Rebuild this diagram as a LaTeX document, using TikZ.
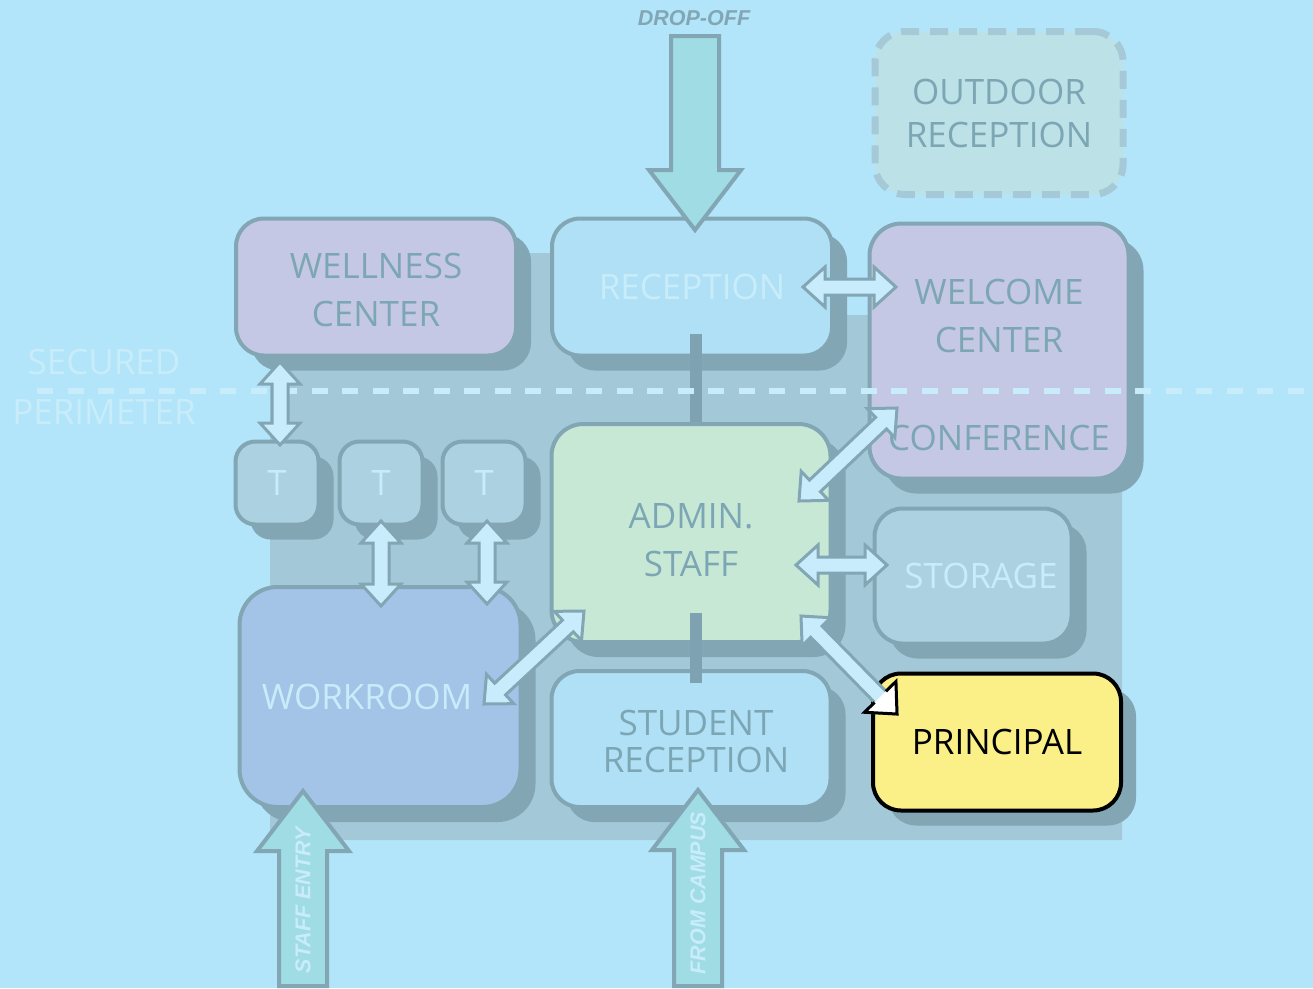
\documentclass[tikz,border=0pt]{standalone}
\usepackage{fontspec}
\setmainfont{Open Sans}
\newfontfamily\signfont{Liberation Sans}
\usetikzlibrary{calc,shadows}

\definecolor{skyblue}{HTML}{B2E5F9}
\definecolor{zonegray}{HTML}{A3C8D7}
\definecolor{edgegray}{HTML}{82A6B4}
\definecolor{wallbar}{HTML}{7EA2B1}
\definecolor{inkgray}{HTML}{7DA6B5}
\definecolor{inklight}{HTML}{C8ECFA}
\definecolor{lilac}{HTML}{C5C8E4}
\definecolor{paleblue}{HTML}{B0E0F5}
\definecolor{mint}{HTML}{C8E8D6}
\definecolor{steel}{HTML}{ACD2E1}
\definecolor{cornflower}{HTML}{A3C4E7}
\definecolor{lemon}{HTML}{FAF087}
\definecolor{lanefill}{HTML}{A0DCE4}
\definecolor{ductfill}{HTML}{C8ECFB}
\definecolor{patio}{HTML}{BCE2E8}
\definecolor{patioedge}{HTML}{A5C9D7}

\tikzset{
    room/.style = {draw=edgegray, line width=4pt, rounded corners=28pt, align=center,
        text=inkgray, font=\fontsize{35}{48}\selectfont,
        drop shadow={shadow xshift=15pt, shadow yshift=-15pt, fill=edgegray, opacity=1}},
    roomtext/.style = {text=inkgray, align=center, font=\fontsize{35}{48}\selectfont},
    tbox/.style = {room, fill=steel, text=inklight, rounded corners=20pt, minimum size=83pt},
    outdoor/.style = {draw=patioedge, fill=patio, line width=7pt, dash pattern=on 18pt off 11pt,
        rounded corners=30pt, align=center, text=inkgray, font=\fontsize{35}{43}\selectfont},
    partition/.style = {wallbar, line width=12pt},
    perimeter/.style = {inklight, line width=6pt, dash pattern=on 16pt off 14.5pt},
    duct/.style = {draw=edgegray, fill=ductfill, line width=3pt, line join=miter},
    lane/.style = {draw=edgegray, fill=lanefill, line width=4pt, line join=miter},
    signtext/.style = {font=\signfont\bfseries\itshape\fontsize{21.5}{24}\selectfont},
    % two headed passage between rooms
    pics/dblarrow/.style args = {#1/#2}{
        code = {%
        \draw[duct] (#1) -- ($(#1)!22pt!(#2)!20pt!90:(#2)$) -- ($(#1)!22pt!(#2)!8pt!90:(#2)$)
            -- ($(#2)!22pt!(#1)!8pt!-90:(#1)$) -- ($(#2)!22pt!(#1)!20pt!-90:(#1)$)
            -- (#2) -- ($(#2)!22pt!(#1)!20pt!90:(#1)$) -- ($(#2)!22pt!(#1)!8pt!90:(#1)$)
            -- ($(#1)!22pt!(#2)!8pt!-90:(#2)$) -- ($(#1)!22pt!(#2)!20pt!-90:(#2)$) -- cycle;
        }
    },
    % wide entry arrow, tail #1, tip #2
    pics/bigarrow/.style args = {#1/#2}{
        code = {%
        \draw[lane] ($(#1)!24pt!90:(#2)$) -- ($(#2)!60pt!(#1)!24pt!-90:(#1)$)
            -- ($(#2)!60pt!(#1)!46pt!-90:(#1)$) -- (#2) -- ($(#2)!60pt!(#1)!46pt!90:(#1)$)
            -- ($(#2)!60pt!(#1)!24pt!90:(#1)$) -- ($(#1)!24pt!-90:(#2)$) -- cycle;
        }
    },
}

\begin{document}
\begin{tikzpicture}[x=1pt, y=-1pt]
\useasboundingbox (0,0) rectangle (1313,988);
\fill[skyblue] (0,0) rectangle (1313,988);

% secured zone behind the rooms
\fill[zonegray] (270,253) -- (843,253) -- (843,315) -- (1122,315) -- (1122,840) -- (270,840) -- cycle;

\node[outdoor, minimum width=248pt, minimum height=163pt] (outdoor) at (999,113) {OUTDOOR\\RECEPTION};

% rooms
\node[room, fill=lilac, minimum width=280pt, minimum height=137pt,
    label={[roomtext, yshift=-3pt]center:WELLNESS\\CENTER}] (wellness) at (376,287) {};
\node[room, fill=paleblue, text=inklight, minimum width=280pt, minimum height=137pt] (reception) at (692,287) {RECEPTION};
\node[room, fill=lilac, rounded corners=32pt, minimum width=259pt, minimum height=255pt,
    label={[roomtext, yshift=35pt]center:WELCOME\\CENTER},
    label={[roomtext, yshift=-87pt]center:CONFERENCE}] (welcome) at (999,351) {};

\node[tbox] (t1) at (277,483) {T};
\node[tbox] (t2) at (381,483) {T};
\node[tbox] (t3) at (484,483) {T};

\node[room, fill=mint, rounded corners=32pt, minimum width=279pt, minimum height=218pt,
    label={[roomtext, yshift=-7pt]center:ADMIN.\\STAFF}] (admin) at (691,533) {};
\node[room, fill=steel, text=inklight, minimum width=197pt, minimum height=135pt] (storage) at (973,576) {\hspace*{16pt}STORAGE};
\node[room, fill=cornflower, rounded corners=38pt, minimum width=281pt, minimum height=220pt,
    label={[roomtext, text=inklight, xshift=-13pt]center:WORKROOM}] (workroom) at (380,697) {};
\node[room, fill=paleblue, minimum width=279pt, minimum height=136pt,
    label={[roomtext, font=\fontsize{35}{37}\selectfont, xshift=5pt, yshift=-2pt]center:STUDENT\\RECEPTION}] (student) at (691,739) {};
\node[room, fill=lemon, draw=black, text=black, minimum width=248pt, minimum height=137pt] (principal) at (997,742) {PRINCIPAL};

% walls between front rooms
\draw[partition] ($(reception.south)+(4,-24)$) -- ($(admin.north)+(5,0)$);
\draw[partition] ($(admin.south)+(5,-31)$) -- ($(student.north)+(5,14)$);

% secured perimeter line
\draw[perimeter] (37,391) -- (1313,391);
\node[text=inklight, align=center, font=\fontsize{35}{50}\selectfont] (secured) at (104,387) {SECURED\\PERIMETER};

% passages
\coordinate (wc1) at (280,362);
\coordinate (wc2) at (280,445);
\pic {dblarrow=wc1/wc2};
\coordinate (tw1) at (381,521);
\coordinate (tw2) at (381,606);
\pic {dblarrow=tw1/tw2};
\coordinate (tw3) at (487,521);
\coordinate (tw4) at (487,604);
\pic {dblarrow=tw3/tw4};
\coordinate (rw1) at (803,287);
\coordinate (rw2) at (896,287);
\pic {dblarrow=rw1/rw2};
\coordinate (ca1) at (897,408);
\coordinate (ca2) at (799,501);
\pic {dblarrow=ca1/ca2};
\coordinate (as1) at (796,565);
\coordinate (as2) at (887,565);
\pic {dblarrow=as1/as2};
\coordinate (aw1) at (584,611);
\coordinate (aw2) at (484,704);
\pic {dblarrow=aw1/aw2};
\coordinate (ap1) at (801,616);
\coordinate (ap2) at (897,714);
\pic {dblarrow=ap1/ap2};
% principal end of the passage
\filldraw[fill=white, draw=black, line width=3pt, line join=miter]
    ($(ap2)!24pt!(ap1)!8pt!90:(ap1)$) -- ($(ap2)!24pt!(ap1)!22pt!90:(ap1)$) -- (ap2)
    -- ($(ap2)!24pt!(ap1)!22pt!-90:(ap1)$) -- ($(ap2)!24pt!(ap1)!8pt!-90:(ap1)$);

% entries
\coordinate (drop) at (695,36);
\coordinate (drop-tip) at (695,230);
\pic {bigarrow=drop/drop-tip};
\node[signtext, text=edgegray] (dropoff) at (694,18) {DROP-OFF};

\coordinate (staff) at (303,986);
\coordinate (staff-tip) at (303,791);
\pic {bigarrow=staff/staff-tip};
\node[signtext, text=inklight, rotate=90] (staffentry) at (303,900) {STAFF ENTRY};

\coordinate (campus) at (698,986);
\coordinate (campus-tip) at (698,790);
\pic {bigarrow=campus/campus-tip};
\node[signtext, text=inklight, rotate=90] (fromcampus) at (698,893) {FROM CAMPUS};
\end{tikzpicture}
\end{document}
